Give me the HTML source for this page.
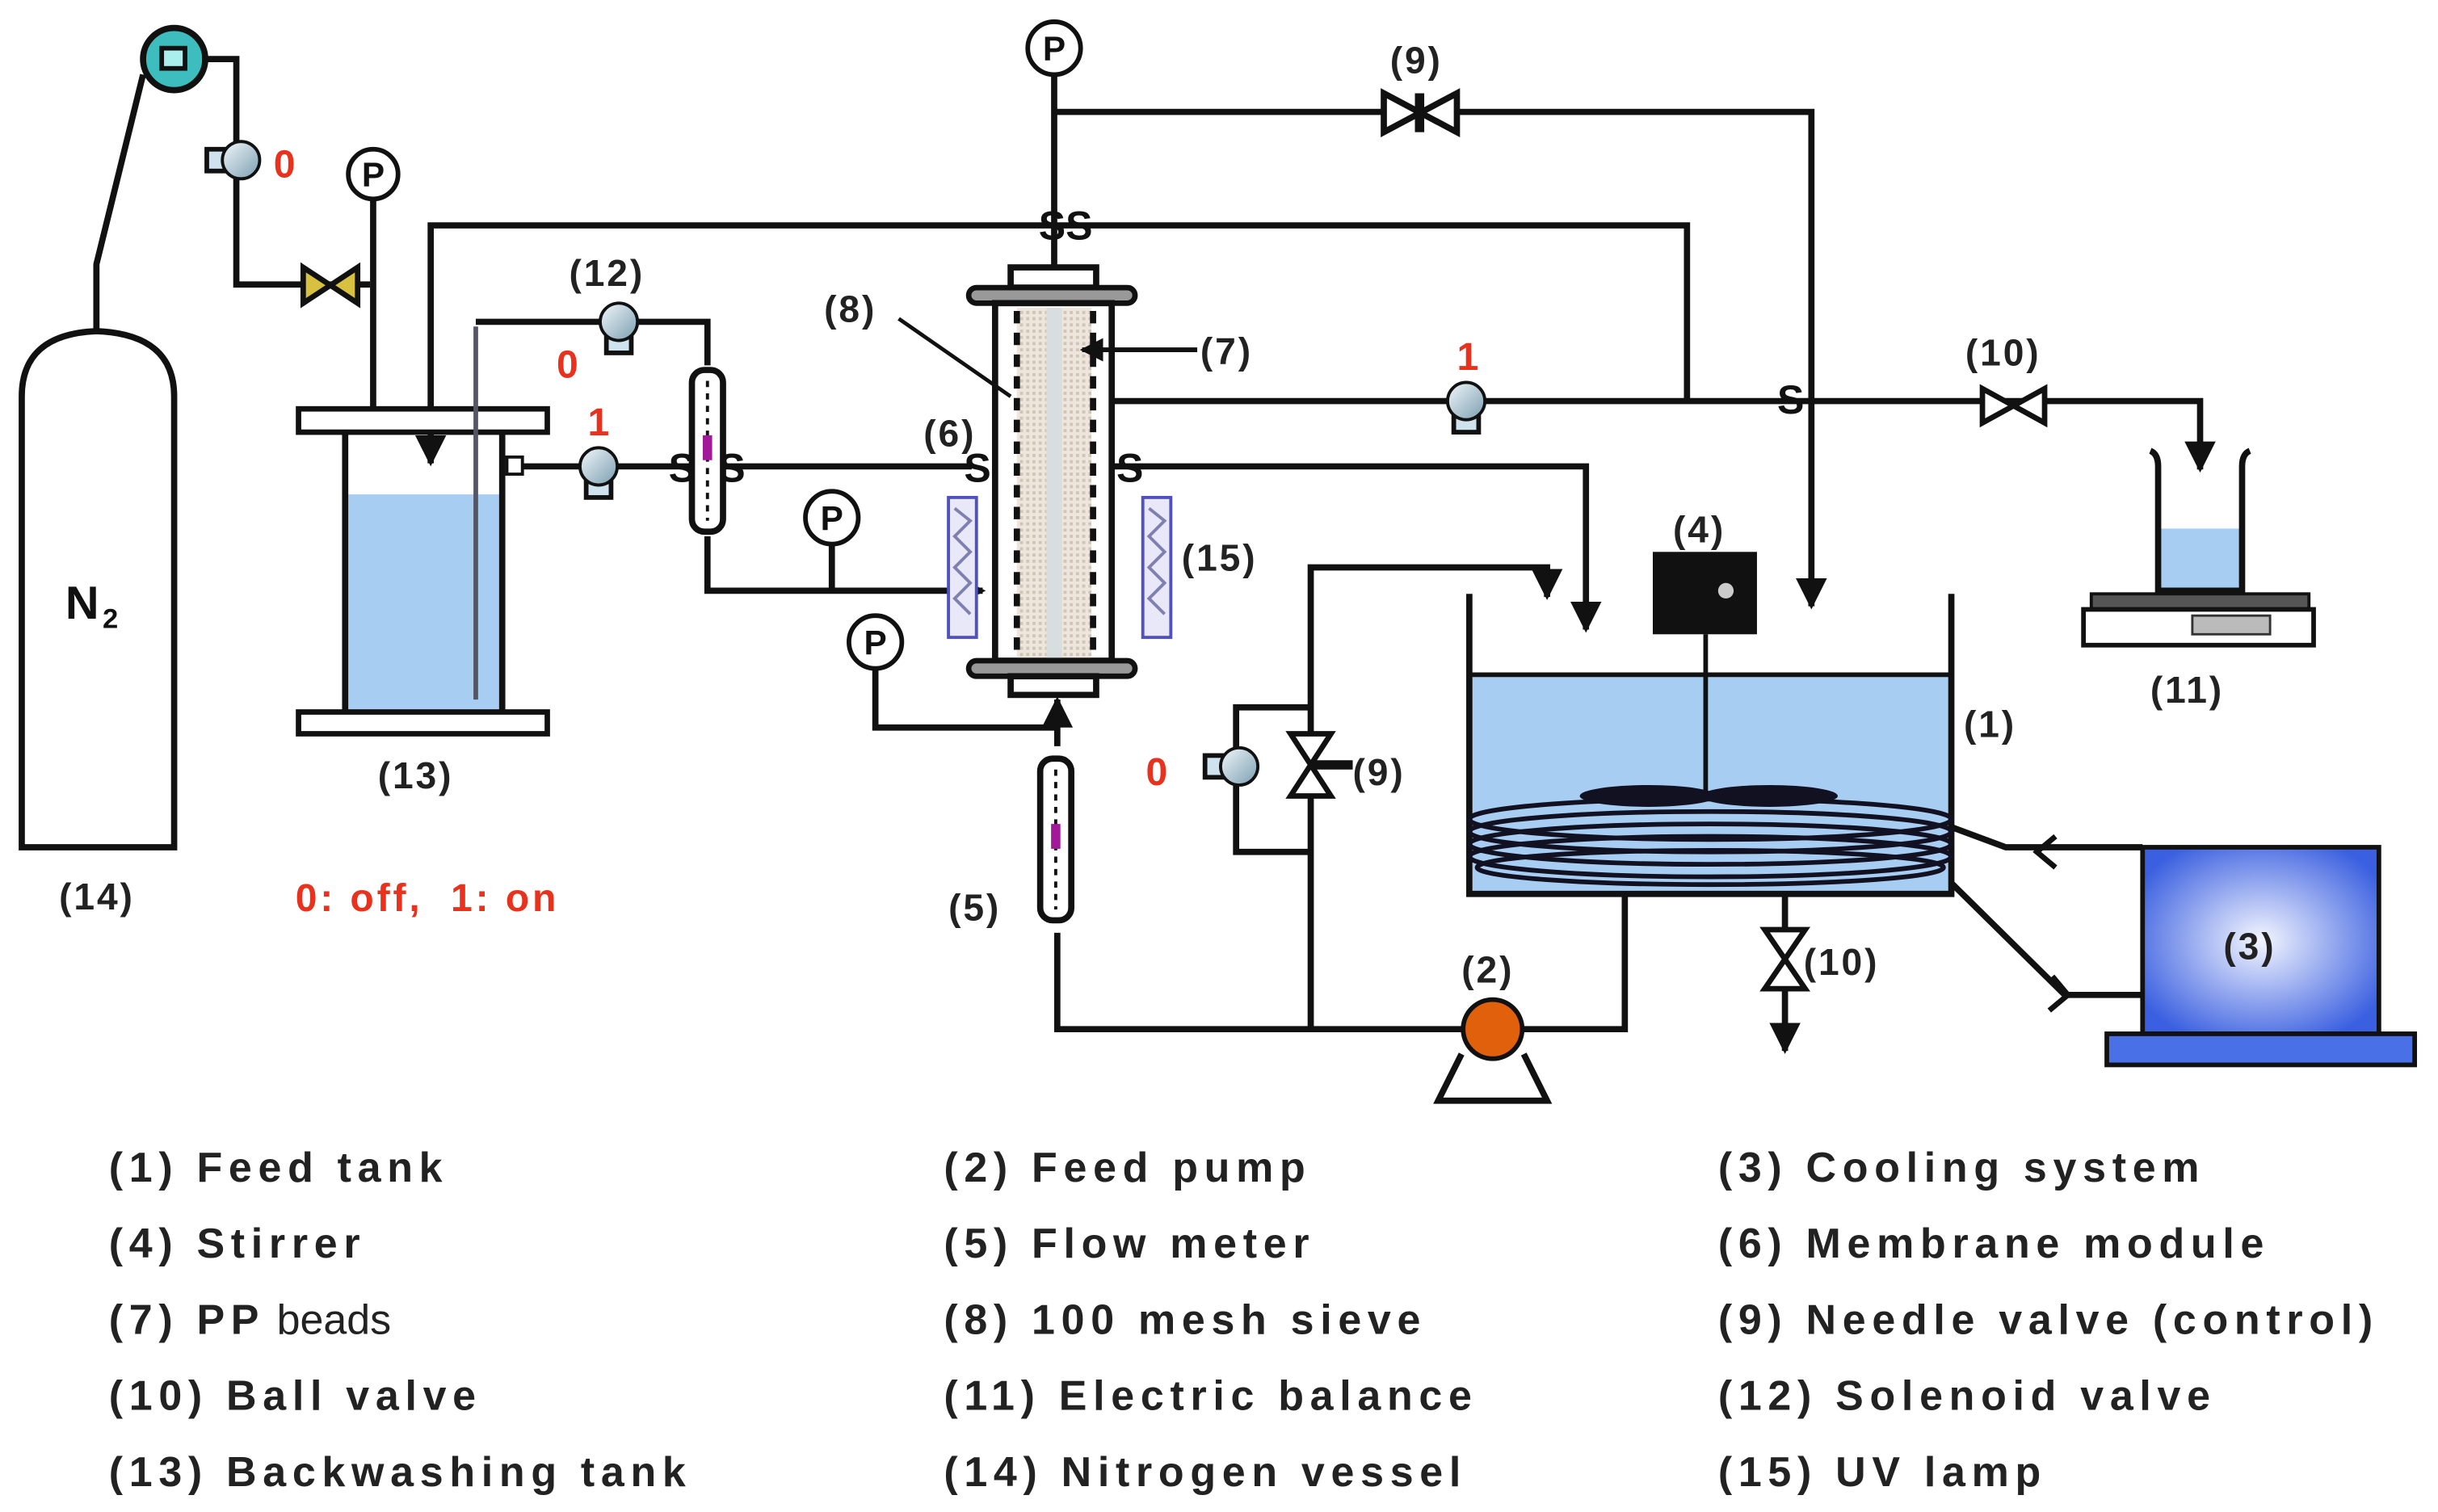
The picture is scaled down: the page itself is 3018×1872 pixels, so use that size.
<!DOCTYPE html>
<html><head><meta charset="utf-8"><style>
html,body{margin:0;padding:0;background:#fff}
svg{display:block}
text{font-family:"Liberation Sans",sans-serif;font-weight:bold}
.lg text{font-size:27px;letter-spacing:4px;fill:#222}
.lb text{font-size:24px;letter-spacing:1.5px;fill:#222}
.red text{font-size:25px;fill:#e8321e}
</style></head><body>
<svg width="3018" height="1872" viewBox="0 0 1568 972.6" xmlns="http://www.w3.org/2000/svg">
<defs>
<radialGradient id="g3" cx="50%" cy="50%" r="60%"><stop offset="0" stop-color="#f4f6ff"/><stop offset="1" stop-color="#3a5fe0"/></radialGradient>
<linearGradient id="sv" x1="0" y1="0" x2="1" y2="1"><stop offset="0" stop-color="#f2f8fb"/><stop offset="1" stop-color="#7a9db0"/></linearGradient>
<pattern id="dots" width="4" height="4" patternUnits="userSpaceOnUse"><rect width="4" height="4" fill="#eee6dc"/><rect width="2" height="2" fill="#cfc5b8"/></pattern>
<marker id="ah" viewBox="0 0 10 10" refX="9" refY="5" markerWidth="5" markerHeight="5" orient="auto"><path d="M0,0L10,5L0,10z" fill="#111"/></marker>
<g id="solD"><rect x="-8" y="8" width="16" height="12" fill="#cfe3ee" stroke="#111" stroke-width="3"/><circle r="12" fill="url(#sv)" stroke="#111" stroke-width="2"/></g>
<g id="solL"><rect x="-22" y="-7" width="12" height="14" fill="#cfe3ee" stroke="#111" stroke-width="3"/><circle r="12" fill="url(#sv)" stroke="#111" stroke-width="2"/></g>
<g id="fm"><rect x="-10" y="-52" width="20" height="104" rx="8" fill="#fff" stroke="#111" stroke-width="4"/><line x1="0" y1="-45" x2="0" y2="45" stroke="#111" stroke-width="2" stroke-dasharray="4 4"/><rect x="-3" y="-10" width="6" height="16" fill="#a01a9a"/></g>
<g id="uv"><rect x="-9" y="-45" width="18" height="90" fill="#e8e8f8" stroke="#5050c0" stroke-width="2"/><path d="M-5,-38 L5,-30 L-5,-20 L5,-10 L-5,0 L5,10 L-5,20 L5,30" fill="none" stroke="#8080b0" stroke-width="2"/></g>
</defs>
<g fill="none" stroke="#111" stroke-width="4">
<path d="M14,545 V255 Q14,215 62,213 Q112,215 112,255 V545 Z" fill="#fff"/>
<path d="M62,213 V170 L92,48"/>
<circle cx="112" cy="38" r="20" fill="#3dbdbd"/>
<rect x="104" y="31" width="15" height="13" fill="#aee" stroke-width="3"/>
<path d="M130,38 H152 V183 H238"/>
<path d="M240,125 V265"/>
<circle cx="240" cy="112" r="16" fill="#fff" stroke-width="3"/>
<path d="M1085,258 V145 H277 V298" marker-end="url(#ah)"/>
<rect x="224" y="318" width="98" height="140" fill="#a8cdf2" stroke="none"/>
<rect x="192" y="263" width="160" height="15" fill="#fff" stroke-width="3.5"/>
<rect x="192" y="458" width="160" height="14" fill="#fff" stroke-width="3.5"/>
<path d="M222,278 V458 M323,278 V458"/>
<path d="M306,210 V450" stroke="#556" stroke-width="3"/>
<path d="M306,207 H455 V235"/>
<path d="M330,300 H445"/>
<rect x="326" y="294" width="10" height="11" fill="#fff" stroke-width="2"/>
<path d="M455,345 V380 H632" marker-end="url(#ah)"/>
<path d="M535,350 V380"/>
<path d="M465,300 H625"/>
<path d="M678,48 V172"/>
<path d="M678,72 H1165 V390" marker-end="url(#ah)"/>
<path d="M715,258 H1415 V302" marker-end="url(#ah)"/>
<path d="M715,300 H1020 V405" marker-end="url(#ah)"/>
<path d="M563,430 V468 H680"/>
<path d="M680,480 V450" marker-end="url(#ah)"/>
<path d="M680,600 V662 H1045 V575"/>
<path d="M843,662 V365 H995 V384" marker-end="url(#ah)"/>
<path d="M843,455 H795 V548 H843"/>
<rect x="947" y="434" width="306" height="140" fill="#a8cdf2" stroke="none"/>
<path d="M945,382 V575 H1255 V382"/>
<path d="M945,434 H1255" stroke-width="3"/>
<path d="M1097,408 V510" stroke-width="3"/>
<path d="M1148,575 V676" marker-end="url(#ah)"/>
<path d="M1255,532 L1290,545 H1378"/>
<path d="M1255,568 L1328,640 H1378"/>
</g>
<g font-family="Liberation Sans" font-weight="bold" font-size="26" fill="#111">
<text x="668" y="154">SS</text>
<text x="1143" y="266">S</text>
<text x="620" y="310">S</text>
<text x="718" y="310">S</text>
<text x="430" y="310">S</text>
<text x="462" y="310">S</text>
</g>
<path d="M1322,538 L1310,548 L1322,558" fill="none" stroke="#111" stroke-width="3.5"/>
<path d="M1320,628 L1330,640 L1318,650" fill="none" stroke="#111" stroke-width="3.5"/>
<use href="#fm" x="455" y="290"/>
<use href="#fm" x="679" y="540"/>
<rect x="650" y="172" width="55" height="13" fill="#fff" stroke="#111" stroke-width="4"/>
<rect x="623" y="185" width="107" height="10" rx="5" fill="#999" stroke="#111" stroke-width="3.5"/>
<rect x="640" y="195" width="75" height="230" fill="#fff" stroke="#111" stroke-width="4"/>
<rect x="654" y="198" width="48" height="225" fill="url(#dots)"/>
<rect x="673" y="198" width="10" height="225" fill="#d8dde0"/>
<path d="M654,200 V423 M703,200 V423" stroke="#111" stroke-width="4" stroke-dasharray="8 6"/>
<rect x="623" y="425" width="107" height="10" rx="5" fill="#999" stroke="#111" stroke-width="3.5"/>
<rect x="650" y="435" width="55" height="12" fill="#fff" stroke="#111" stroke-width="4"/>
<path d="M770,225 H696" stroke="#111" stroke-width="3" marker-end="url(#ah)"/>
<path d="M578,205 L650,255" stroke="#111" stroke-width="2.5"/>
<use href="#uv" x="619" y="365"/>
<use href="#uv" x="744" y="365"/>
<g fill="#fff" stroke="#111" stroke-width="3">
<circle cx="678" cy="31" r="17"/><circle cx="535" cy="333" r="17"/><circle cx="563" cy="413" r="17"/>
</g>
<g font-size="22" font-family="Liberation Sans" fill="#111" text-anchor="middle">
<text x="678" y="39">P</text><text x="240" y="120">P</text><text x="535" y="341">P</text><text x="563" y="421">P</text>
</g>
<path d="M195,172 L230,195 V172 L195,195 Z" fill="#d8c040" stroke="#111" stroke-width="3.5"/>
<path d="M890,60 L937,85 V60 L890,85 Z" fill="#fff" stroke="#111" stroke-width="4"/>
<path d="M913,60 V85" stroke="#111" stroke-width="6"/>
<path d="M1275,250 L1315,272 V250 L1275,272 Z" fill="#fff" stroke="#111" stroke-width="3.5"/>
<path d="M830,472 L856,512 H830 L856,472 Z" fill="#fff" stroke="#111" stroke-width="3.5"/>
<path d="M843,492 H870" stroke="#111" stroke-width="6"/>
<path d="M1135,598 L1161,636 H1135 L1161,598 Z" fill="#fff" stroke="#111" stroke-width="3.5"/>
<use href="#solL" x="155" y="103"/>
<use href="#solD" x="398" y="207"/>
<use href="#solD" x="385" y="300"/>
<use href="#solD" x="943" y="258"/>
<use href="#solL" x="797" y="493"/>
<path d="M940,678 L925,708 H995 L980,678" fill="#fff" stroke="#111" stroke-width="4"/>
<circle cx="960" cy="662" r="19" fill="#e0600c" stroke="#111" stroke-width="3"/>
<rect x="1063" y="355" width="67" height="53" fill="#111"/>
<circle cx="1110" cy="380" r="5" fill="#ccc"/>
<ellipse cx="1060" cy="512" rx="44" ry="7" fill="#112"/>
<ellipse cx="1138" cy="512" rx="44" ry="7" fill="#112"/>
<g fill="none" stroke="#112" stroke-width="3">
<ellipse cx="1100" cy="527" rx="155" ry="13"/><ellipse cx="1100" cy="535" rx="155" ry="13"/><ellipse cx="1100" cy="543" rx="155" ry="13"/><ellipse cx="1100" cy="551" rx="155" ry="13"/><ellipse cx="1100" cy="558" rx="150" ry="11"/>
</g>
<rect x="1378" y="545" width="152" height="120" fill="url(#g3)" stroke="#111" stroke-width="3"/>
<rect x="1355" y="665" width="198" height="20" fill="#4a70e8" stroke="#111" stroke-width="3"/>
<rect x="1388" y="340" width="54" height="40" fill="#a8cdf2"/>
<path d="M1383,290 Q1388,292 1388,300 V380 H1442 V300 Q1442,292 1447,290" fill="none" stroke="#111" stroke-width="4"/>
<rect x="1345" y="382" width="140" height="10" fill="#555" stroke="#111" stroke-width="2"/>
<rect x="1340" y="392" width="148" height="23" fill="#fff" stroke="#111" stroke-width="3"/>
<rect x="1410" y="396" width="50" height="12" fill="#bbb" stroke="#333" stroke-width="1.5"/>
<text x="42" y="398" font-size="30" fill="#111">N</text><text x="66" y="404" font-size="18" fill="#111">2</text>
<g class="lb">
<text x="38" y="585">(14)</text>
<text x="243" y="507">(13)</text>
<text x="366" y="184">(12)</text>
<text x="530" y="207">(8)</text>
<text x="772" y="234">(7)</text>
<text x="594" y="287">(6)</text>
<text x="760" y="367">(15)</text>
<text x="894" y="47">(9)</text>
<text x="1264" y="235">(10)</text>
<text x="1076" y="349">(4)</text>
<text x="1263" y="474">(1)</text>
<text x="870" y="505">(9)</text>
<text x="1160" y="627">(10)</text>
<text x="940" y="632">(2)</text>
<text x="610" y="592">(5)</text>
<text x="1430" y="617">(3)</text>
<text x="1383" y="452">(11)</text>
</g>
<g class="red">
<text x="176" y="114">0</text><text x="358" y="243">0</text><text x="378" y="280">1</text><text x="937" y="238">1</text><text x="737" y="505">0</text>
<text x="190" y="586" letter-spacing="2" xml:space="preserve">0: off,  1: on</text>
</g>
<g class="lg">
<text x="70" y="760">(1) Feed tank</text><text x="607" y="760">(2) Feed pump</text><text x="1105" y="760">(3) Cooling system</text>
<text x="70" y="809">(4) Stirrer</text><text x="607" y="809">(5) Flow meter</text><text x="1105" y="809">(6) Membrane module</text>
<text x="70" y="858">(7)  PP<tspan font-weight="normal" letter-spacing="0"> beads</tspan></text><text x="607" y="858">(8) 100 mesh sieve</text><text x="1105" y="858">(9) Needle valve (control)</text>
<text x="70" y="907">(10) Ball valve</text><text x="607" y="907">(11) Electric balance</text><text x="1105" y="907">(12) Solenoid valve</text>
<text x="70" y="956">(13) Backwashing tank</text><text x="607" y="956">(14) Nitrogen vessel</text><text x="1105" y="956">(15) UV lamp</text>
</g>
</svg>
</body></html>
